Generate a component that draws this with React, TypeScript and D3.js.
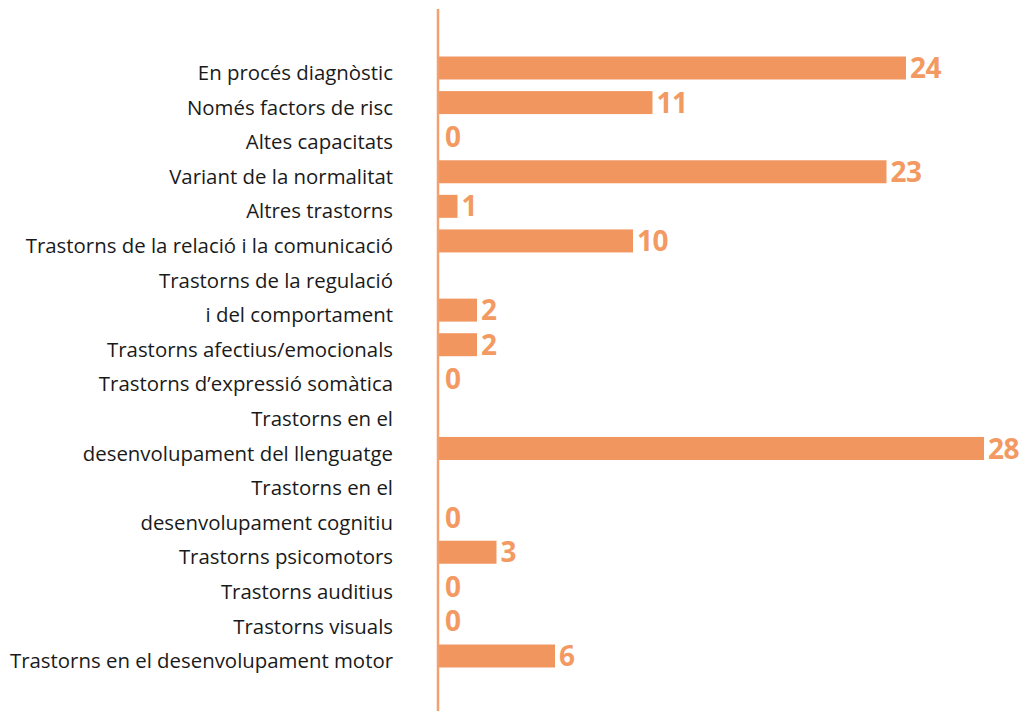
import React, { useEffect, useRef } from "react";
import * as d3 from "d3";

const categories: string[][] = [
  ["En procés diagnòstic"],
  ["Només factors de risc"],
  ["Altes capacitats"],
  ["Variant de la normalitat"],
  ["Altres trastorns"],
  ["Trastorns de la relació i la comunicació"],
  ["Trastorns de la regulació", "i del comportament"],
  ["Trastorns afectius/emocionals"],
  ["Trastorns d’expressió somàtica"],
  ["Trastorns en el", "desenvolupament del llenguatge"],
  ["Trastorns en el", "desenvolupament cognitiu"],
  ["Trastorns psicomotors"],
  ["Trastorns auditius"],
  ["Trastorns visuals"],
  ["Trastorns en el desenvolupament motor"],
];
const values: number[] = [24, 11, 0, 23, 1, 10, 2, 2, 0, 28, 0, 3, 0, 0, 6];

const W = 1029;
const H = 711;
const BAR = "#F29660";
const AXIS = "#F4A06C";

export default function App() {
  const ref = useRef<SVGSVGElement>(null);
  useEffect(() => {
    const svg = d3.select(ref.current);
    svg.selectAll("*").remove();

    const starts: number[] = [];
    let acc = 0;
    categories.forEach((c) => {
      starts.push(acc);
      acc += c.length;
    });
    const totalLines = acc;

    const yLine = d3.scaleLinear().domain([0, totalLines - 1]).range([73, 661]);
    const x = d3.scaleLinear().domain([0, 28]).range([438, 984]);
    const labelRight = 393;
    const barH = 23;

    const g = svg.append("g");

    categories.forEach((lines, i) => {
      lines.forEach((ln, j) => {
        g.append("text")
          .attr("x", labelRight)
          .attr("y", yLine(starts[i] + j))
          .attr("dy", "0.35em")
          .attr("text-anchor", "end")
          .attr("font-family", "'Open Sans', sans-serif")
          .attr("font-size", 20.4)
          .attr("fill", "#1a1a1a")
          .text(ln);
      });
    });

    const barCenter = (i: number) => yLine(starts[i] + categories[i].length - 1) - 5;
    values.forEach((v, i) => {
      const cy = barCenter(i);
      if (v > 0) {
        g.append("rect")
          .attr("x", x(0))
          .attr("y", cy - barH / 2)
          .attr("width", x(v) - x(0))
          .attr("height", barH)
          .attr("fill", BAR);
      }
      g.append("text")
        .attr("x", x(v) + (v > 0 ? 4 : 7))
        .attr("y", cy)
        .attr("dy", "0.36em")
        .attr("font-family", "'Open Sans', sans-serif")
        .attr("font-weight", 700)
        .attr("font-size", 28)
        .attr("letter-spacing", -0.5)
        .attr("fill", "#F39A63")
        .text(String(v));
    });

    g.append("line")
      .attr("x1", x(0))
      .attr("x2", x(0))
      .attr("y1", 9)
      .attr("y2", H)
      .attr("stroke", AXIS)
      .attr("stroke-width", 2.5);
  }, []);

  return (
    <svg
      ref={ref}
      width={W}
      height={H}
      style={{ position: "absolute", left: 0, top: 0, background: "#fff" }}
    />
  );
}
